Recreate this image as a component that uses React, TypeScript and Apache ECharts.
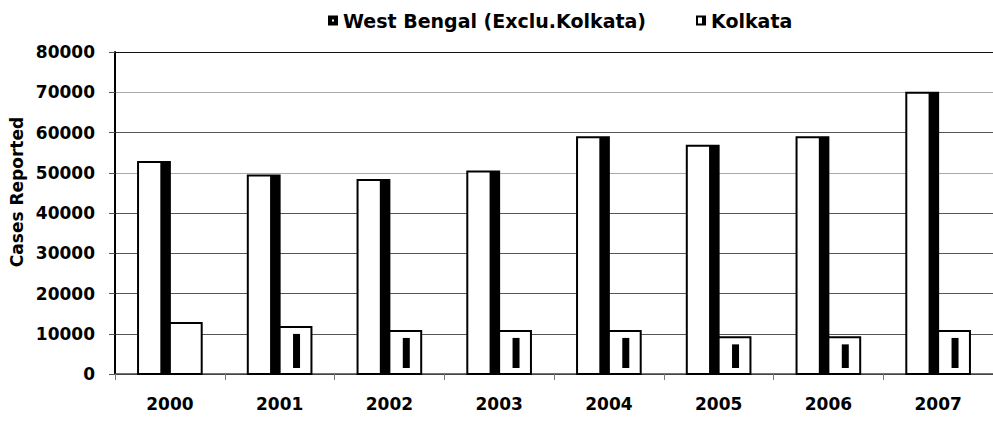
import React, { useEffect, useRef } from "react";
import * as echarts from "echarts";

const categories = ["2000", "2001", "2002", "2003", "2004", "2005", "2006", "2007"];
const westBengal = [52700, 49300, 48200, 50300, 58800, 56700, 58800, 69900];
const kolkata = [12700, 11700, 10700, 10700, 10700, 9100, 9100, 10700];
const yMin = 0;
const yMax = 80000;
const yInterval = 10000;

const FONT = "DejaVu Sans";

export default function App() {
  const ref = useRef<HTMLDivElement>(null);
  useEffect(() => {
    if (!ref.current) return;
    const chart = echarts.init(ref.current, null, { renderer: "svg" });
    const barFrac = 0.29;
    const legendText = { fontFamily: FONT, fontWeight: "bold", fontSize: 19, color: "#000" };
    const option: any = {
      animation: false,
      backgroundColor: "#fff",
      grid: { left: 115, right: -10, top: 52, bottom: 47 },
      legend: [
        {
          left: 323,
          top: 6,
          itemWidth: 10,
          itemHeight: 10,
          textStyle: legendText,
          data: [
            {
              name: "West Bengal (Exclu.Kolkata)",
              icon: "path://M0,0H10V10H0Z M4,4V6H6V4Z",
              itemStyle: { color: "#000", borderWidth: 0 },
            },
          ],
        },
        {
          left: 691,
          top: 6,
          itemWidth: 10,
          itemHeight: 10,
          textStyle: legendText,
          data: [
            {
              name: "Kolkata",
              icon: "path://M0,0H10V10H0Z M2,2V8H6V2Z",
              itemStyle: { color: "#000", borderWidth: 0 },
            },
          ],
        },
      ],
      xAxis: {
        type: "category",
        data: categories,
        boundaryGap: true,
        axisLine: { show: true, lineStyle: { color: "#444", width: 1.5 } },
        axisTick: { show: true, length: 6, lineStyle: { color: "#777" } },
        axisLabel: {
          margin: 21,
          fontFamily: FONT,
          fontWeight: "bold",
          fontSize: 17,
          color: "#000",
        },
        splitLine: { show: false },
      },
      yAxis: {
        type: "value",
        min: yMin,
        max: yMax,
        interval: yInterval,
        axisLine: { show: true, lineStyle: { color: "#000", width: 2 } },
        axisTick: { show: true, length: 6, lineStyle: { color: "#555" } },
        axisLabel: {
          margin: 20,
          fontFamily: FONT,
          fontWeight: "bold",
          fontSize: 17,
          color: "#000",
          formatter: (v: number) => String(v),
        },
        splitLine: {
          show: true,
          lineStyle: {
            color: ["#444", "#555", "#555", "#555", "#555", "#aaa", "#555", "#aaa", "#111"],
            width: 1,
          },
        },
      },
      graphic: [
        {
          type: "text",
          x: 17,
          y: 192,
          rotation: Math.PI / 2,
          style: {
            text: "Cases Reported",
            fontFamily: FONT,
            fontWeight: "bold",
            fontSize: 17,
            fill: "#000",
            align: "center",
            verticalAlign: "middle",
          },
        },
      ],
      series: [
        {
          name: "West Bengal (Exclu.Kolkata)",
          type: "custom",
          itemStyle: { color: "#000" },
          encode: { x: 0, y: 1 },
          data: westBengal.map((v, i) => [i, v]),
          renderItem: (params: any, api: any) => {
            const i = api.value(0);
            const v = api.value(1);
            const top = api.coord([i, v]);
            const base = api.coord([i, 0]);
            const band = api.size([1, 0])[0];
            const w = band * barFrac;
            const x0 = base[0] - w;
            const h = base[1] - top[1];
            return {
              type: "group",
              children: [
                {
                  type: "rect",
                  shape: { x: x0, y: top[1], width: w, height: h },
                  style: { fill: "#fff", stroke: "#000", lineWidth: 2 },
                },
                {
                  type: "rect",
                  shape: { x: x0 + w * 0.7, y: top[1], width: w * 0.3, height: h },
                  style: { fill: "#000" },
                },
              ],
            };
          },
        },
        {
          name: "Kolkata",
          type: "custom",
          itemStyle: { color: "#000" },
          encode: { x: 0, y: 1 },
          data: kolkata.map((v, i) => [i, v]),
          renderItem: (params: any, api: any) => {
            const i = api.value(0);
            const v = api.value(1);
            const top = api.coord([i, v]);
            const base = api.coord([i, 0]);
            const band = api.size([1, 0])[0];
            const w = band * barFrac;
            const x0 = base[0];
            const h = base[1] - top[1];
            const children: any[] = [
              {
                type: "rect",
                shape: { x: x0, y: top[1], width: w, height: h },
                style: { fill: "#fff", stroke: "#000", lineWidth: 2 },
              },
            ];
            if (i > 0) {
              children.push({
                type: "rect",
                shape: { x: x0 + w / 2 - 2.5, y: top[1] + 7, width: 7, height: h - 13 },
                style: { fill: "#000" },
              });
            }
            return { type: "group", children };
          },
        },
      ],
    };
    chart.setOption(option);
    return () => chart.dispose();
  }, []);
  return (
    <div
      ref={ref}
      style={{ position: "fixed", left: 0, top: 0, width: 993, height: 421, background: "#fff" }}
    />
  );
}
